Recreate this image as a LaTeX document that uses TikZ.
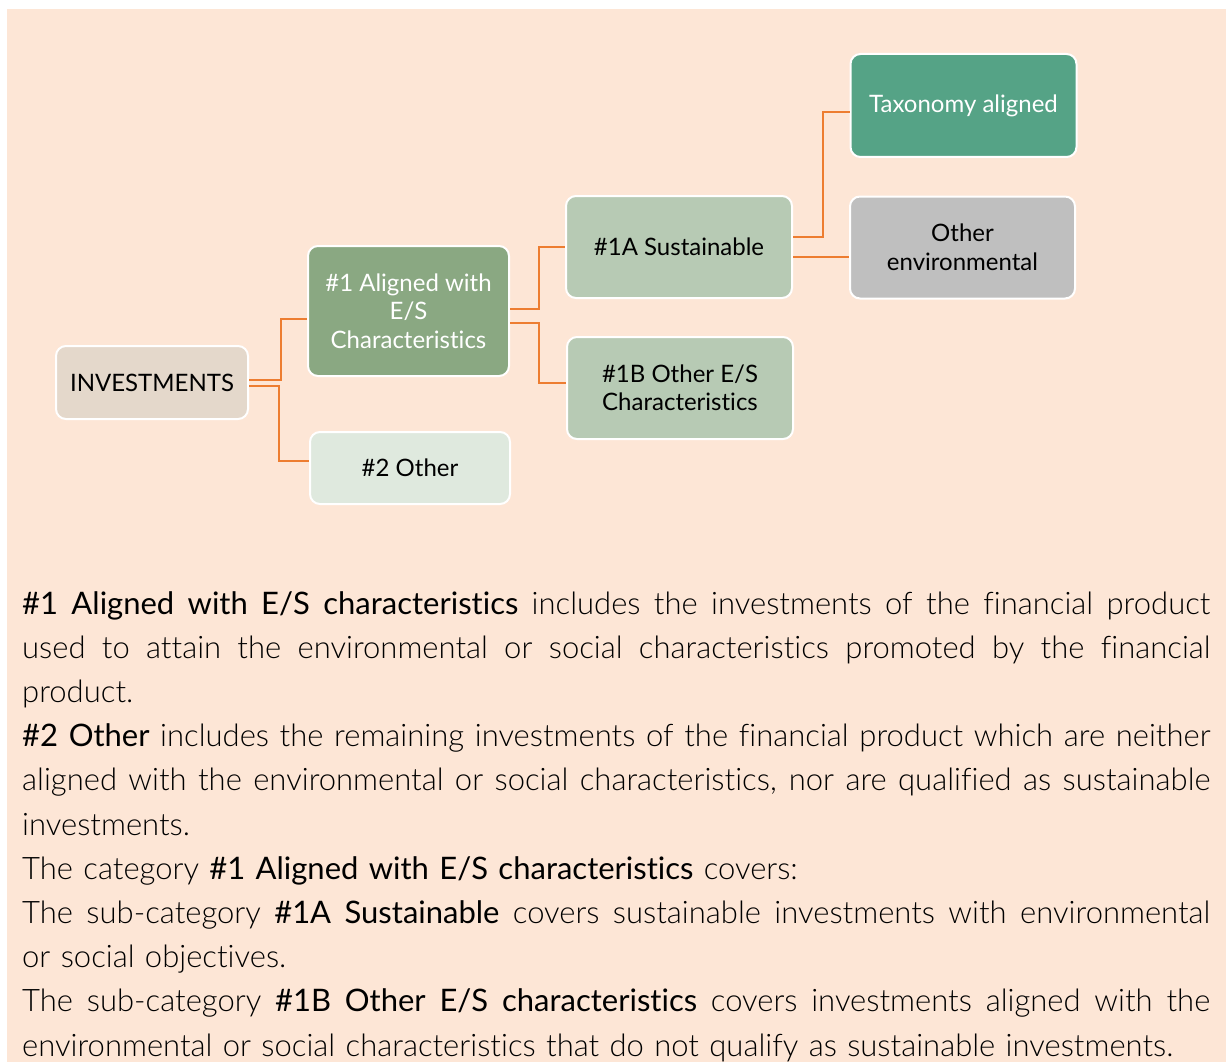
\documentclass[tikz,border=0pt]{standalone}
\usepackage{fontspec}
\IfFontExistsTF{Lato Light}{\setmainfont{Lato Light}[Ligatures=NoCommon]}{\setmainfont{Lato}[Ligatures=NoCommon]}
\newfontfamily\boxfont{Lato}[Ligatures=NoCommon]
\usepackage{xcolor}
\definecolor{peach}{HTML}{FDE6D6}
\definecolor{linkorange}{HTML}{ED7D31}
\definecolor{invfill}{HTML}{E4D8CB}
\definecolor{esfill}{HTML}{8AA882}
\definecolor{subfill}{HTML}{B7CAB4}
\definecolor{otherfill}{HTML}{DFE9DE}
\definecolor{taxfill}{HTML}{55A386}
\definecolor{envfill}{HTML}{BFBFBF}
\newcommand{\fullline}[1]{\leavevmode\hbox to 1188pt{\spaceskip=\fontdimen2\font plus 1fil\relax #1}}
\newcommand{\hl}[1]{{\boxfont #1}}

\begin{document}
\begin{tikzpicture}[x=1pt,y=-1pt,
  catbox/.style={draw=white,line width=2pt,rounded corners=10pt,align=center,
    font=\boxfont\fontsize{24}{28.5}\selectfont,inner sep=0pt},
  link/.style={draw=linkorange,line width=1.7pt}]
\useasboundingbox (0,0) rectangle (1232,1062);
\fill[white] (0,0) rectangle (1232,1062);
\fill[peach] (7,9) rectangle (1226,1062);
% Drawing boxes
\node[catbox,fill=invfill,minimum width=192pt,minimum height=73pt] (inv) at (152,382.5) {INVESTMENTS};
\node[catbox,fill=esfill,text=white,minimum width=201pt,minimum height=130pt] (esc) at (408.5,311) {\#1 Aligned with\\E/S\\Characteristics};
\node[catbox,fill=otherfill,minimum width=200pt,minimum height=72pt] (oth) at (410,468) {\#2 Other};
\node[catbox,fill=subfill,minimum width=226pt,minimum height=102pt] (sus) at (679,247) {\#1A Sustainable};
\node[catbox,fill=subfill,minimum width=226pt,minimum height=102pt] (oes) at (680,388) {\#1B Other E/S\\Characteristics};
\node[catbox,fill=taxfill,text=white,minimum width=226pt,minimum height=103pt] (tax) at (963.5,105.5) {Taxonomy aligned};
\node[catbox,fill=envfill,minimum width=225pt,minimum height=102pt] (env) at (962.5,247.5) {Other\\environmental};
% Drawing links
\draw[link] ([yshift=2.5pt]inv.east) -- ++(32,0) |- ([yshift=-8pt]esc.west);
\draw[link] ([yshift=-3.5pt]inv.east) -- ++(30,0) |- ([yshift=7pt]oth.west);
\draw[link] ([yshift=2pt]esc.east) -- ++(29,0) |- (sus.west);
\draw[link] ([yshift=-12pt]esc.east) -- ++(29,0) |- ([yshift=5pt]oes.west);
\draw[link] ([yshift=10pt]sus.east) -- ++(30,0) |- ([yshift=-6.5pt]tax.west);
\draw[link] ([yshift=-10pt]sus.east) -- ([yshift=-9.5pt]env.west);
% Drawing legend text
\node[anchor=base west,inner sep=0pt,text width=1188pt,align=left,
  font=\fontsize{31}{44.2}\selectfont] (legend) at (22,614) {%
\fullline{\hl{\#1 Aligned with E/S characteristics} includes the investments of the financial product}\\
\fullline{used to attain the environmental or social characteristics promoted by the financial}\\
product.\\
\fullline{\hl{\#2 Other} includes the remaining investments of the financial product which are neither}\\
\fullline{aligned with the environmental or social characteristics, nor are qualified as sustainable}\\
investments.\\
The category \hl{\#1 Aligned with E/S characteristics} covers:\\
\fullline{The sub-category \hl{\#1A Sustainable} covers sustainable investments with environmental}\\
or social objectives.\\
\fullline{The sub-category \hl{\#1B Other E/S characteristics} covers investments aligned with the}\\
environmental or social characteristics that do not qualify as sustainable investments.};
\end{tikzpicture}
\end{document}
